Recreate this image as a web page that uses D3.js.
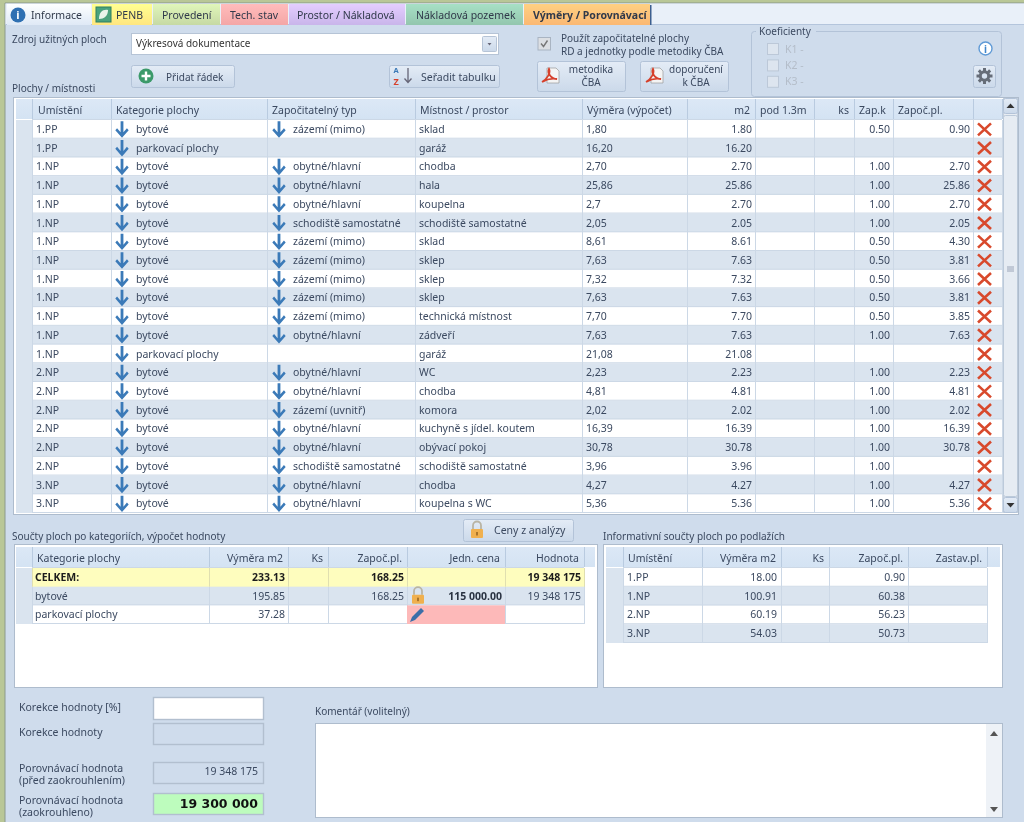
<!DOCTYPE html>
<html>
<head>
<meta charset="utf-8">
<script src="https://cdn.jsdelivr.net/npm/d3@7"></script>
<style>
html, body { margin: 0; padding: 0; background: #cfdcec; overflow: hidden; }
svg { display: block; filter: blur(0.3px); }
text { font-family: "Noto Sans", sans-serif; font-size: 10.5px; fill: #3b4960; }
</style>
</head>
<body>
<svg id="app" width="1024" height="822"></svg>
<script>
// main table values
var umisteni = ["1.PP","1.PP","1.NP","1.NP","1.NP","1.NP","1.NP","1.NP","1.NP","1.NP","1.NP","1.NP","1.NP","2.NP","2.NP","2.NP","2.NP","2.NP","2.NP","3.NP","3.NP"];
var kategorie = ["bytové","parkovací plochy","bytové","bytové","bytové","bytové","bytové","bytové","bytové","bytové","bytové","bytové","parkovací plochy","bytové","bytové","bytové","bytové","bytové","bytové","bytové","bytové"];
var typ = ["zázemí (mimo)","","obytné/hlavní","obytné/hlavní","obytné/hlavní","schodiště samostatné","zázemí (mimo)","zázemí (mimo)","zázemí (mimo)","zázemí (mimo)","zázemí (mimo)","obytné/hlavní","","obytné/hlavní","obytné/hlavní","zázemí (uvnitř)","obytné/hlavní","obytné/hlavní","schodiště samostatné","obytné/hlavní","obytné/hlavní"];
var mistnost = ["sklad","garáž","chodba","hala","koupelna","schodiště samostatné","sklad","sklep","sklep","sklep","technická místnost","zádveří","garáž","WC","chodba","komora","kuchyně s jídel. koutem","obývací pokoj","schodiště samostatné","chodba","koupelna s WC"];
var vymeraText = ["1,80","16,20","2,70","25,86","2,7","2,05","8,61","7,63","7,32","7,63","7,70","7,63","21,08","2,23","4,81","2,02","16,39","30,78","3,96","4,27","5,36"];
var m2 = [1.80,16.20,2.70,25.86,2.70,2.05,8.61,7.63,7.32,7.63,7.70,7.63,21.08,2.23,4.81,2.02,16.39,30.78,3.96,4.27,5.36];
var zapK = [0.50,null,1,1,1,1,0.50,0.50,0.50,0.50,0.50,1,null,1,1,1,1,1,1,1,1];
var zapPl = [0.90,null,2.70,25.86,2.70,2.05,4.30,3.81,3.66,3.81,3.85,7.63,null,2.23,4.81,2.02,16.39,30.78,null,4.27,5.36];
var mainHeaders = ["Umístění","Kategorie plochy","Započitatelný typ","Místnost / prostor","Výměra (výpočet)","m2","pod 1.3m","ks","Zap.k","Započ.pl.",""];

// category summary
var katHeaders = ["Kategorie plochy","Výměra m2","Ks","Započ.pl.","Jedn. cena","Hodnota"];
var katNames = ["CELKEM:","bytové","parkovací plochy"];
var katVymera = [233.13,195.85,37.28];
var katZap = [168.25,168.25,null];
var katCena = ["","115 000.00",""];
var katHodnota = ["19 348 175","19 348 175",""];

// floor summary
var podHeaders = ["Umístění","Výměra m2","Ks","Započ.pl.","Zastav.pl."];
var podNames = ["1.PP","1.NP","2.NP","3.NP"];
var podVymera = [18.00,100.91,60.19,54.03];
var podZap = [0.90,60.38,56.23,50.73];

var tabNames = ["Informace","PENB","Provedení","Tech. stav","Prostor / Nákladová","Nákladová pozemek","Výměry / Porovnávací"];
var tabColors = ["#dfe9f6","#ffe680","#c6d9a4","#f4a6a6","#c9b5ea","#93c6ae","#fbb873"];
var tabEdges = [7,92,153,221,289,406,524,651];
var tabTextX = [31,116,162,230,297,416,533];

var fmt = d3.format(".2f");
var svg = d3.select("#app");
var defs = svg.append("defs");

function grad(id, c1, c2) {
    var g = defs.append("linearGradient").attr("id", id).attr("x1", 0).attr("x2", 0).attr("y1", 0).attr("y2", 1);
    g.append("stop").attr("offset", 0).attr("stop-color", c1);
    g.append("stop").attr("offset", 1).attr("stop-color", c2);
}
grad("hdr", "#dce8f6", "#d4e3f3");
grad("btn", "#e4ecf6", "#cbd9ea");
tabColors.forEach(function (c, i) { grad("tab" + i, d3.color(c).brighter(0.35).formatHex(), c); });

function rect(x, y, w, h, fill, stroke, rx) {
    return svg.append("rect").attr("x", x).attr("y", y).attr("width", w).attr("height", h)
        .attr("fill", fill).attr("stroke", stroke || "none").attr("rx", rx || 0);
}
function label(x, y, s, opts) {
    opts = opts || {};
    var t = svg.append("text").attr("x", x).attr("y", y).text(s)
        .attr("text-anchor", opts.anchor || "start");
    if (opts.bold) t.style("font-weight", "bold");
    if (opts.fill) t.style("fill", opts.fill);
    if (opts.size) t.style("font-size", opts.size + "px");
    if (opts.family) t.style("font-family", opts.family);
    return t;
}

// icons
function arrowIcon(x, y) {
    svg.append("path").attr("transform", "translate(" + x + "," + y + ") scale(0.88,1)")
        .attr("d", "M-1.6,-8 h3.2 v11 l4,-4.2 l2,2 l-7.6,7.6 l-7.6,-7.6 l2,-2 l4,4.2 z")
        .attr("fill", "#3b7ab8");
}
function crossIcon(x, y) {
    svg.append("path").attr("transform", "translate(" + x + "," + y + ")")
        .attr("d", "M-6.5,-6 L6.5,6 M6.5,-6 L-6.5,6")
        .attr("stroke", "#d8492c").attr("stroke-width", 2.6).attr("fill", "none");
}
function pdfIcon(x, y) {
    var g = svg.append("g").attr("transform", "translate(" + x + "," + y + ")");
    g.append("path").attr("d", "M0,-8 h9 l3,3 v12 h-12 z").attr("fill", "#f4f4f4").attr("stroke", "#9a9a9a").attr("stroke-width", 0.7);
    g.append("path").attr("d", "M-5,6 C0,3 4,-3 2,-7 C0,-3 4,3 10,3 C5,2 0,3 -5,6 z").attr("fill", "none").attr("stroke", "#d6402b").attr("stroke-width", 1.8);
}
function lockIcon(x, y) {
    var g = svg.append("g").attr("transform", "translate(" + x + "," + y + ")");
    g.append("path").attr("d", "M-4,-1 v-3.5 a4,4 0 0 1 8,0 v3.5").attr("fill", "none").attr("stroke", "#b9b4a4").attr("stroke-width", 1.8);
    g.append("rect").attr("x", -6).attr("y", -1).attr("width", 12).attr("height", 9).attr("rx", 1).attr("fill", "#f0b04e");
    g.append("rect").attr("x", -1).attr("y", 2).attr("width", 2).attr("height", 3.5).attr("fill", "#a9742a");
}

// window frame
rect(0, 0, 1024, 822, "#cfdcec");
rect(0, 0, 1024, 3, "#b9c797");
rect(0, 0, 5, 822, "#b9c797");
rect(4.5, 3, 1, 819, "#8c998c");
rect(5, 2.5, 1019, 1, "#8c998c");
rect(5.5, 3.5, 1019, 21, "#e9f0f9");
rect(5.5, 24, 1019, 1, "#b4c5dc");

// tabs
var tabs = svg.append("g");
tabNames.forEach(function (n, i) {
    tabs.append("rect").attr("x", tabEdges[i]).attr("y", 4).attr("width", tabEdges[i + 1] - tabEdges[i] - 1).attr("height", 21)
        .attr("fill", "url(#tab" + i + ")");
    label(tabTextX[i], 18.5, n, { bold: i === tabNames.length - 1, fill: "#30394a" });
});
rect(650, 5, 1.5, 20, "#3d5f8f");
svg.append("circle").attr("cx", 18).attr("cy", 15).attr("r", 7.5).attr("fill", "#2f70b2");
label(18, 19, "i", { anchor: "middle", bold: true, fill: "#fff", size: 11 });
rect(96, 7, 15, 15, "#4aa27c", "#2f7f60");
svg.append("path").attr("d", "M99,19 C99,12 103,9 108,10 C108,16 104,19 99,19 z").attr("fill", "#e8f4ea");

// source row
label(12, 43, "Zdroj užitných ploch", { size: 10 });
rect(131.5, 33.5, 367, 21, "#fff", "#b6c4d6");
label(136, 47, "Výkresová dokumentace", { size: 10, fill: "#333" });
rect(482.5, 36.5, 14, 15, "url(#btn)", "#b6c4d6", 1);
svg.append("path").attr("d", "M487.5,43 h4 l-2,2.5 z").attr("fill", "#667");

// buttons
function button(x, y, w, h) { rect(x + 0.5, y + 0.5, w, h, "url(#btn)", "#b3c3d8", 2); }
button(131, 65, 103, 22);
svg.append("circle").attr("cx", 146).attr("cy", 76).attr("r", 7.5).attr("fill", "#3c9a6a");
svg.append("path").attr("d", "M141.5,76 h9 M146,71.5 v9").attr("stroke", "#fff").attr("stroke-width", 2.4);
label(166, 81, "Přidat řádek", { size: 10 });
button(389, 65, 110, 22);
label(396, 72.5, "A", { fill: "#3b7ab8", size: 7.5, bold: true, anchor: "middle" });
label(396, 84.5, "Z", { fill: "#d6402b", size: 9, bold: true, anchor: "middle" });
svg.append("path").attr("d", "M408,68 v14 M404.5,78.5 l3.5,4 l3.5,-4").attr("stroke", "#667").attr("fill", "none").attr("stroke-width", 1.3);
label(421, 81, "Seřadit tabulku");
label(12, 92, "Plochy / místnosti", { size: 10 });

// CBA box
rect(538, 37.5, 12.5, 12.5, "#dcdfe3", "#a9b4c2");
svg.append("path").attr("d", "M541,43.5 l2.5,3 l4,-6").attr("stroke", "#777").attr("fill", "none").attr("stroke-width", 1.4);
label(561, 42, "Použít započitatelné plochy", { size: 10 });
label(561, 55, "RD a jednotky podle metodiky ČBA", { size: 10 });
button(537, 61, 88, 30);
pdfIcon(547, 76);
label(591, 73, "metodika", { anchor: "middle", size: 10 });
label(591, 86, "ČBA", { anchor: "middle", size: 10 });
button(640, 61, 88, 30);
pdfIcon(651, 76);
label(696, 73, "doporučení", { anchor: "middle", size: 10 });
label(696, 86, "k ČBA", { anchor: "middle", size: 10 });

// coefficients
rect(751.5, 31.5, 250, 65, "none", "#b3c3d8", 3);
rect(756, 26, 60, 10, "#cfdcec");
label(759, 35, "Koeficienty", { size: 10 });
["K1 -","K2 -","K3 -"].forEach(function (k, i) {
    rect(767.5, 43.5 + i * 16.4, 11, 11, "#dde5ef", "#bcc8d8");
    label(785, 52.5 + i * 16.4, k, { fill: "#b4bdc9" });
});
svg.append("circle").attr("cx", 985.5).attr("cy", 48.5).attr("r", 6.5).attr("fill", "#fff").attr("stroke", "#5f9ad6").attr("stroke-width", 1.4);
label(985.5, 52.5, "i", { anchor: "middle", fill: "#3f86cc", size: 10, bold: true });
button(973, 65, 22, 22);
var gear = svg.append("g").attr("transform", "translate(984.5,76)");
gear.append("circle").attr("r", 4.2).attr("fill", "none").attr("stroke", "#666d78").attr("stroke-width", 3);
d3.range(8).forEach(function (i) {
    gear.append("rect").attr("x", -1.5).attr("y", -8).attr("width", 3).attr("height", 3)
        .attr("fill", "#666d78").attr("transform", "rotate(" + i * 45 + ")");
});

// generic grid: edges are the column separators, the stub sits before the first one
function grid(frame, edges, headers, headerAlign, rowCount, rowTop, rowBottom, hdrY, hdrH) {
    rect(frame.x + 0.5, frame.y + 0.5, frame.w, frame.h, "#fff", "#aebccd");
    var y = d3.scaleBand().domain(d3.range(rowCount)).range([rowTop, rowBottom]);
    var g = svg.append("g");
    var left = frame.x + frame.inset;

    // header
    g.append("rect").attr("x", left).attr("y", hdrY).attr("width", frame.headW).attr("height", hdrH).attr("fill", "url(#hdr)");
    g.selectAll("line.h").data(edges).enter().append("line")
        .attr("x1", function (d) { return d + 0.5; }).attr("x2", function (d) { return d + 0.5; })
        .attr("y1", hdrY).attr("y2", hdrY + hdrH).attr("stroke", "#b9cbe0");

    // stub
    g.append("rect").attr("x", left).attr("y", rowTop).attr("width", edges[0] - left)
        .attr("height", rowBottom - rowTop).attr("fill", "#dae4ef");

    // row bands
    g.selectAll("rect.r").data(d3.range(rowCount)).enter().append("rect")
        .attr("x", edges[0]).attr("width", edges[edges.length - 1] - edges[0])
        .attr("y", function (d) { return y(d); }).attr("height", y.bandwidth())
        .attr("fill", function (d) { return d % 2 ? "#dae4ef" : "#fff"; });
    g.selectAll("line.rh").data(d3.range(rowCount + 1)).enter().append("line")
        .attr("x1", edges[0]).attr("x2", edges[edges.length - 1])
        .attr("y1", function (d) { return (d === rowCount ? rowBottom : y(d)) - 0.5; })
        .attr("y2", function (d) { return (d === rowCount ? rowBottom : y(d)) - 0.5; })
        .attr("stroke", "#ccd8e6");
    g.selectAll("line.rv").data(edges).enter().append("line")
        .attr("x1", function (d) { return d + 0.5; }).attr("x2", function (d) { return d + 0.5; })
        .attr("y1", rowTop).attr("y2", rowBottom).attr("stroke", "#ccd8e6");

    headers.forEach(function (h, i) {
        if (headerAlign[i] === "end") label(edges[i + 1] - 5, hdrY + 14.5, h, { anchor: "end" });
        else label(edges[i] + (i === 0 ? frame.firstPad : 5), hdrY + 14.5, h);
    });
    return y;
}

// main table
var mainEdges = [32,111,267,415,582,687,755,814,854,893,973,1002];
var mainY = grid({ x: 13, y: 97, w: 1005, h: 417, inset: 3, headW: 990, firstPad: 6 }, mainEdges, mainHeaders,
    ["start","start","start","start","start","end","start","end","start","start","start"], 21, 120, 513, 99, 20);
var rowMid = function (i) { return mainY(i) + mainY.bandwidth() / 2 + 3.6; };
var arrowMid = function (i) { return mainY(i) + mainY.bandwidth() / 2; };

umisteni.forEach(function (u, i) {
    label(36, rowMid(i), u);
    arrowIcon(122, arrowMid(i));
    label(136, rowMid(i), kategorie[i]);
    if (typ[i]) {
        arrowIcon(279, arrowMid(i));
        label(293, rowMid(i), typ[i]);
    }
    label(419, rowMid(i), mistnost[i]);
    label(586, rowMid(i), vymeraText[i]);
    label(752, rowMid(i), fmt(m2[i]), { anchor: "end" });
    if (zapK[i] !== null) label(890, rowMid(i), fmt(zapK[i]), { anchor: "end" });
    if (zapPl[i] !== null) label(970, rowMid(i), fmt(zapPl[i]), { anchor: "end" });
    crossIcon(984.5, arrowMid(i));
});

// scrollbar
rect(1003.5, 98.5, 14, 414, "#e8edf3", "#c4cfdd");
button(1003, 98, 14, 15);
svg.append("path").attr("d", "M1006.5,108 h8 l-4,-4.5 z").attr("fill", "#333");
rect(1003.5, 115.5, 14, 381, "#e6ecf3", "#bccada", 2);
svg.append("path").attr("d", "M1007,267 h7 M1007,269 h7 M1007,271 h7").attr("stroke", "#8896a8").attr("stroke-width", 0.8);
button(1003, 497, 14, 15);
svg.append("path").attr("d", "M1006.5,503 h8 l-4,4.5 z").attr("fill", "#333");

// lower left table
label(12, 540, "Součty ploch po kategoriích, výpočet hodnoty", { size: 10 });
button(463, 519, 110, 22);
lockIcon(477, 530);
label(494, 534, "Ceny z analýzy");
var katEdges = [32,209,288,328,407,505,584];
var katY = grid({ x: 14, y: 544, w: 583, h: 143, inset: 2, headW: 579, firstPad: 5 }, katEdges, katHeaders,
    ["start","end","end","end","end","end"], 3, 568, 624, 547, 20);
var katMid = function (i) { return katY(i) + katY.bandwidth() / 2 + 3.6; };
rect(32, katY(0), 552, katY.bandwidth(), "#fefdbe");
rect(407, katY(2), 98, katY.bandwidth(), "#fdb9b9");
katEdges.forEach(function (e) {
    svg.append("line").attr("x1", e + 0.5).attr("x2", e + 0.5).attr("y1", katY(0)).attr("y2", katY(0) + katY.bandwidth()).attr("stroke", "#e0dfb0");
});
katNames.forEach(function (n, i) {
    var bold = i === 0;
    var c = bold ? "#1c1c1c" : null;
    label(35, katMid(i), n, { bold: bold, fill: c });
    label(285, katMid(i), fmt(katVymera[i]), { anchor: "end", bold: bold, fill: c });
    if (katZap[i] !== null) label(404, katMid(i), fmt(katZap[i]), { anchor: "end", bold: bold, fill: c });
    if (katCena[i]) label(502, katMid(i), katCena[i], { anchor: "end", bold: true, fill: "#2a3342" });
    if (katHodnota[i]) label(581, katMid(i), katHodnota[i], { anchor: "end", bold: bold, fill: c });
});
lockIcon(418, katY(1) + 9);
svg.append("path").attr("d", "M410,622 l2,-5 l9,-9 l3,3 l-9,9 z").attr("fill", "#3b6ea8");

// lower right table
label(603, 540, "Informativní součty ploch po podlažích", { size: 10 });
var podEdges = [623,702,781,829,908,987];
var podY = grid({ x: 603, y: 544, w: 399, h: 143, inset: 3, headW: 394, firstPad: 5 }, podEdges, podHeaders,
    ["start","end","end","end","end"], 4, 568, 643, 547, 20);
var podMid = function (i) { return podY(i) + podY.bandwidth() / 2 + 3.6; };
podNames.forEach(function (n, i) {
    label(627, podMid(i), n);
    label(777, podMid(i), fmt(podVymera[i]), { anchor: "end" });
    label(905, podMid(i), fmt(podZap[i]), { anchor: "end" });
});

// bottom fields
function field(x, y, w, h, fill) { rect(x + 0.5, y + 0.5, w, h, fill, "#b2bfcf").attr("stroke-width", 1.4); }
label(19, 711, "Korekce hodnoty [%]");
field(153, 697, 110, 22, "#fff");
label(19, 736, "Korekce hodnoty");
field(153, 723, 110, 21, "#cfdcec");
label(19, 772, "Porovnávací hodnota");
label(19, 784, "(před zaokrouhlením)");
field(153, 762, 110, 21, "#cfdcec");
label(258, 775, "19 348 175", { anchor: "end" });
label(19, 804, "Porovnávací hodnota");
label(19, 816, "(zaokrouhleno)");
field(153, 793, 110, 21, "#bdfcbd");
label(258, 808, "19 300 000", { anchor: "end", bold: true, fill: "#111", size: 12.5, family: "DejaVu Sans" });

label(315, 715, "Komentář (volitelný)", { size: 10 });
rect(315.5, 723.5, 687, 94, "#fff", "#aebccd");
rect(986, 724, 16, 93, "#eef2f7");
svg.append("path").attr("d", "M990,736 h8 l-4,-5 z").attr("fill", "#555");
svg.append("path").attr("d", "M990,807 h8 l-4,5 z").attr("fill", "#555");
</script>
</body>
</html>
